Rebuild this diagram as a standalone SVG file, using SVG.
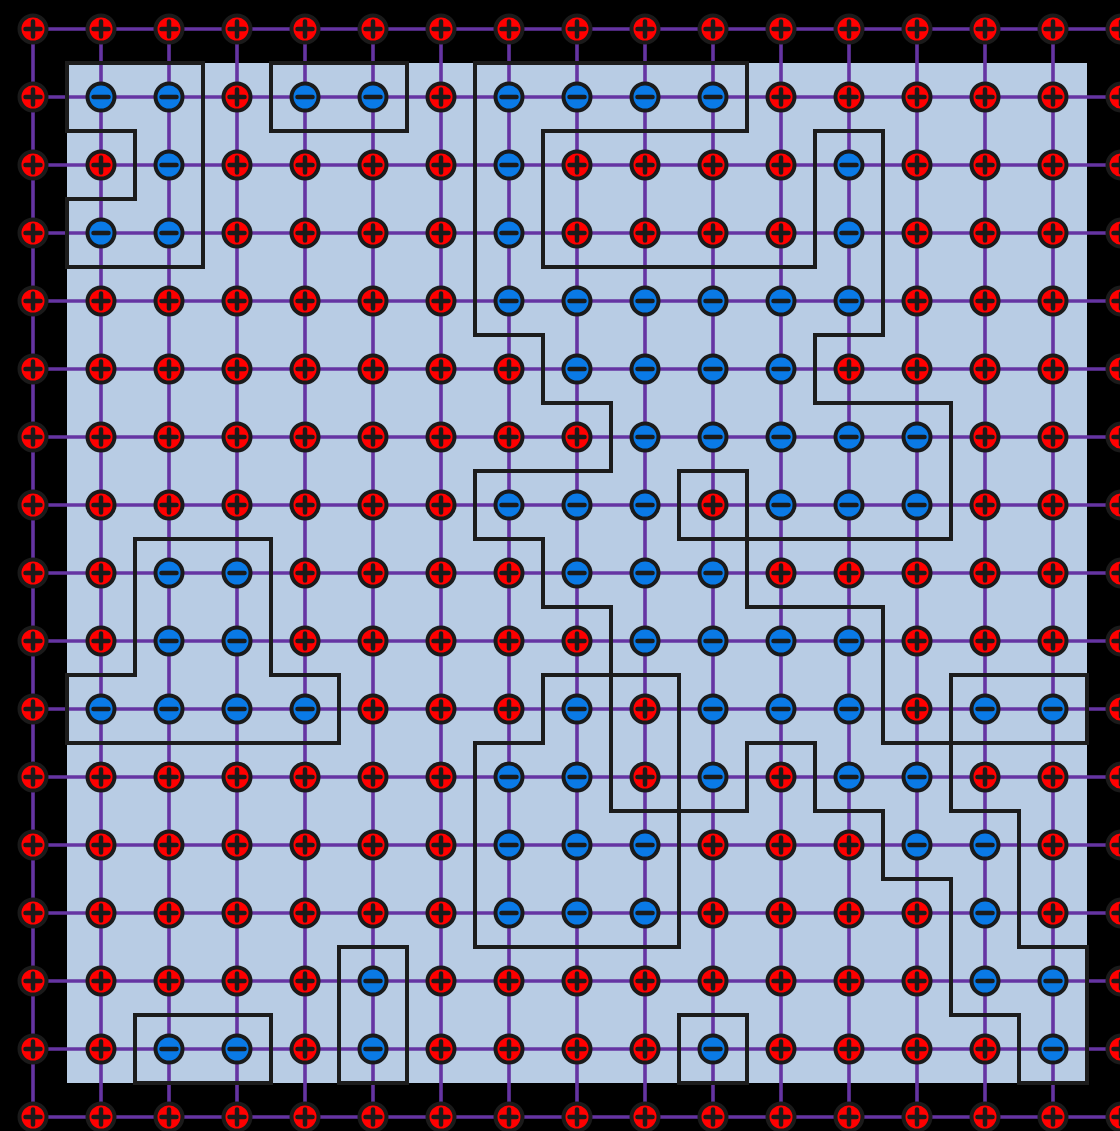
<svg xmlns="http://www.w3.org/2000/svg" xmlns:xlink="http://www.w3.org/1999/xlink" width="1120" height="1131" viewBox="0 0 1120 1131">
<style>
.bond{stroke:#6534a2;stroke-width:3.6;fill:none}
.wall{stroke:#1c1c1c;stroke-width:4;fill:none;stroke-linecap:square;stroke-linejoin:miter}
.ring{stroke:#1a1a1a;stroke-width:4}
.sign{stroke:#1a1a1a;stroke-linecap:round;fill:none}
</style>
<defs>
<g id="p"><circle r="13.5" fill="#ff0000" class="ring"/><path d="M-7.5 0H7.5M0 -7.5V7.5" class="sign" stroke-width="4.5"/></g>
<g id="m"><circle r="13.5" fill="#0a7ae6" class="ring"/><path d="M-7.5 0H7.5" class="sign" stroke-width="4.5"/></g>
</defs>
<rect x="0" y="0" width="1120" height="1131" fill="#000"/>
<rect x="67" y="63" width="1020" height="1020" fill="#b8cce4"/>
<g id="connectors" class="bond">
<path d="M33 29H1120M33 97H1120M33 165H1120M33 233H1120M33 301H1120M33 369H1120M33 437H1120M33 505H1120M33 573H1120M33 641H1120M33 709H1120M33 777H1120M33 845H1120M33 913H1120M33 981H1120M33 1049H1120M33 1117H1120"/>
<path d="M33 29V1117M101 29V1117M169 29V1117M237 29V1117M305 29V1117M373 29V1117M441 29V1117M509 29V1117M577 29V1117M645 29V1117M713 29V1117M781 29V1117M849 29V1117M917 29V1117M985 29V1117M1053 29V1117"/>
</g>
<g id="domain-walls" class="wall">
<path d="M67 63H203M271 63H407M475 63H747
M67 131H135M271 131H407M543 131H747M815 131H883
M67 199H135
M67 267H203M543 267H815
M475 335H543M815 335H883
M543 403H611M815 403H951
M475 471H611M679 471H747
M135 539H271M475 539H543M679 539H951
M543 607H611M747 607H883
M67 675H135M271 675H339M543 675H679M951 675H1087
M67 743H339M475 743H543M747 743H815M883 743H1087
M611 811H747M815 811H883M951 811H1019
M883 879H951
M339 947H407M475 947H679M1019 947H1087
M135 1015H271M679 1015H747M951 1015H1019
M135 1083H271M339 1083H407M679 1083H747M1019 1083H1087"/>
<path d="M67 63V131M67 199V267M67 675V743
M135 131V199M135 539V675M135 1015V1083
M203 63V267
M271 63V131M271 539V675M271 1015V1083
M339 675V743M339 947V1083
M407 63V131M407 947V1083
M475 63V335M475 471V539M475 743V947
M543 131V267M543 335V403M543 539V607M543 675V743
M611 403V471M611 607V811
M679 471V539M679 675V947M679 1015V1083
M747 63V131M747 471V607M747 743V811M747 1015V1083
M815 131V267M815 335V403M815 743V811
M883 131V335M883 607V743M883 811V879
M951 403V539M951 675V811M951 879V1015
M1019 811V947M1019 1015V1083
M1087 675V743M1087 947V1083"/>
</g>
<g id="nodes">
<g id="n0-0"><use href="#p" x="33" y="29"/></g><g id="n0-1"><use href="#p" x="101" y="29"/></g><g id="n0-2"><use href="#p" x="169" y="29"/></g><g id="n0-3"><use href="#p" x="237" y="29"/></g><g id="n0-4"><use href="#p" x="305" y="29"/></g><g id="n0-5"><use href="#p" x="373" y="29"/></g><g id="n0-6"><use href="#p" x="441" y="29"/></g><g id="n0-7"><use href="#p" x="509" y="29"/></g><g id="n0-8"><use href="#p" x="577" y="29"/></g><g id="n0-9"><use href="#p" x="645" y="29"/></g><g id="n0-10"><use href="#p" x="713" y="29"/></g><g id="n0-11"><use href="#p" x="781" y="29"/></g><g id="n0-12"><use href="#p" x="849" y="29"/></g><g id="n0-13"><use href="#p" x="917" y="29"/></g><g id="n0-14"><use href="#p" x="985" y="29"/></g><g id="n0-15"><use href="#p" x="1053" y="29"/></g><g id="n0-16"><use href="#p" x="1121" y="29"/></g>
<g id="n1-0"><use href="#p" x="33" y="97"/></g><g id="n1-1"><use href="#m" x="101" y="97"/></g><g id="n1-2"><use href="#m" x="169" y="97"/></g><g id="n1-3"><use href="#p" x="237" y="97"/></g><g id="n1-4"><use href="#m" x="305" y="97"/></g><g id="n1-5"><use href="#m" x="373" y="97"/></g><g id="n1-6"><use href="#p" x="441" y="97"/></g><g id="n1-7"><use href="#m" x="509" y="97"/></g><g id="n1-8"><use href="#m" x="577" y="97"/></g><g id="n1-9"><use href="#m" x="645" y="97"/></g><g id="n1-10"><use href="#m" x="713" y="97"/></g><g id="n1-11"><use href="#p" x="781" y="97"/></g><g id="n1-12"><use href="#p" x="849" y="97"/></g><g id="n1-13"><use href="#p" x="917" y="97"/></g><g id="n1-14"><use href="#p" x="985" y="97"/></g><g id="n1-15"><use href="#p" x="1053" y="97"/></g><g id="n1-16"><use href="#p" x="1121" y="97"/></g>
<g id="n2-0"><use href="#p" x="33" y="165"/></g><g id="n2-1"><use href="#p" x="101" y="165"/></g><g id="n2-2"><use href="#m" x="169" y="165"/></g><g id="n2-3"><use href="#p" x="237" y="165"/></g><g id="n2-4"><use href="#p" x="305" y="165"/></g><g id="n2-5"><use href="#p" x="373" y="165"/></g><g id="n2-6"><use href="#p" x="441" y="165"/></g><g id="n2-7"><use href="#m" x="509" y="165"/></g><g id="n2-8"><use href="#p" x="577" y="165"/></g><g id="n2-9"><use href="#p" x="645" y="165"/></g><g id="n2-10"><use href="#p" x="713" y="165"/></g><g id="n2-11"><use href="#p" x="781" y="165"/></g><g id="n2-12"><use href="#m" x="849" y="165"/></g><g id="n2-13"><use href="#p" x="917" y="165"/></g><g id="n2-14"><use href="#p" x="985" y="165"/></g><g id="n2-15"><use href="#p" x="1053" y="165"/></g><g id="n2-16"><use href="#p" x="1121" y="165"/></g>
<g id="n3-0"><use href="#p" x="33" y="233"/></g><g id="n3-1"><use href="#m" x="101" y="233"/></g><g id="n3-2"><use href="#m" x="169" y="233"/></g><g id="n3-3"><use href="#p" x="237" y="233"/></g><g id="n3-4"><use href="#p" x="305" y="233"/></g><g id="n3-5"><use href="#p" x="373" y="233"/></g><g id="n3-6"><use href="#p" x="441" y="233"/></g><g id="n3-7"><use href="#m" x="509" y="233"/></g><g id="n3-8"><use href="#p" x="577" y="233"/></g><g id="n3-9"><use href="#p" x="645" y="233"/></g><g id="n3-10"><use href="#p" x="713" y="233"/></g><g id="n3-11"><use href="#p" x="781" y="233"/></g><g id="n3-12"><use href="#m" x="849" y="233"/></g><g id="n3-13"><use href="#p" x="917" y="233"/></g><g id="n3-14"><use href="#p" x="985" y="233"/></g><g id="n3-15"><use href="#p" x="1053" y="233"/></g><g id="n3-16"><use href="#p" x="1121" y="233"/></g>
<g id="n4-0"><use href="#p" x="33" y="301"/></g><g id="n4-1"><use href="#p" x="101" y="301"/></g><g id="n4-2"><use href="#p" x="169" y="301"/></g><g id="n4-3"><use href="#p" x="237" y="301"/></g><g id="n4-4"><use href="#p" x="305" y="301"/></g><g id="n4-5"><use href="#p" x="373" y="301"/></g><g id="n4-6"><use href="#p" x="441" y="301"/></g><g id="n4-7"><use href="#m" x="509" y="301"/></g><g id="n4-8"><use href="#m" x="577" y="301"/></g><g id="n4-9"><use href="#m" x="645" y="301"/></g><g id="n4-10"><use href="#m" x="713" y="301"/></g><g id="n4-11"><use href="#m" x="781" y="301"/></g><g id="n4-12"><use href="#m" x="849" y="301"/></g><g id="n4-13"><use href="#p" x="917" y="301"/></g><g id="n4-14"><use href="#p" x="985" y="301"/></g><g id="n4-15"><use href="#p" x="1053" y="301"/></g><g id="n4-16"><use href="#p" x="1121" y="301"/></g>
<g id="n5-0"><use href="#p" x="33" y="369"/></g><g id="n5-1"><use href="#p" x="101" y="369"/></g><g id="n5-2"><use href="#p" x="169" y="369"/></g><g id="n5-3"><use href="#p" x="237" y="369"/></g><g id="n5-4"><use href="#p" x="305" y="369"/></g><g id="n5-5"><use href="#p" x="373" y="369"/></g><g id="n5-6"><use href="#p" x="441" y="369"/></g><g id="n5-7"><use href="#p" x="509" y="369"/></g><g id="n5-8"><use href="#m" x="577" y="369"/></g><g id="n5-9"><use href="#m" x="645" y="369"/></g><g id="n5-10"><use href="#m" x="713" y="369"/></g><g id="n5-11"><use href="#m" x="781" y="369"/></g><g id="n5-12"><use href="#p" x="849" y="369"/></g><g id="n5-13"><use href="#p" x="917" y="369"/></g><g id="n5-14"><use href="#p" x="985" y="369"/></g><g id="n5-15"><use href="#p" x="1053" y="369"/></g><g id="n5-16"><use href="#p" x="1121" y="369"/></g>
<g id="n6-0"><use href="#p" x="33" y="437"/></g><g id="n6-1"><use href="#p" x="101" y="437"/></g><g id="n6-2"><use href="#p" x="169" y="437"/></g><g id="n6-3"><use href="#p" x="237" y="437"/></g><g id="n6-4"><use href="#p" x="305" y="437"/></g><g id="n6-5"><use href="#p" x="373" y="437"/></g><g id="n6-6"><use href="#p" x="441" y="437"/></g><g id="n6-7"><use href="#p" x="509" y="437"/></g><g id="n6-8"><use href="#p" x="577" y="437"/></g><g id="n6-9"><use href="#m" x="645" y="437"/></g><g id="n6-10"><use href="#m" x="713" y="437"/></g><g id="n6-11"><use href="#m" x="781" y="437"/></g><g id="n6-12"><use href="#m" x="849" y="437"/></g><g id="n6-13"><use href="#m" x="917" y="437"/></g><g id="n6-14"><use href="#p" x="985" y="437"/></g><g id="n6-15"><use href="#p" x="1053" y="437"/></g><g id="n6-16"><use href="#p" x="1121" y="437"/></g>
<g id="n7-0"><use href="#p" x="33" y="505"/></g><g id="n7-1"><use href="#p" x="101" y="505"/></g><g id="n7-2"><use href="#p" x="169" y="505"/></g><g id="n7-3"><use href="#p" x="237" y="505"/></g><g id="n7-4"><use href="#p" x="305" y="505"/></g><g id="n7-5"><use href="#p" x="373" y="505"/></g><g id="n7-6"><use href="#p" x="441" y="505"/></g><g id="n7-7"><use href="#m" x="509" y="505"/></g><g id="n7-8"><use href="#m" x="577" y="505"/></g><g id="n7-9"><use href="#m" x="645" y="505"/></g><g id="n7-10"><use href="#p" x="713" y="505"/></g><g id="n7-11"><use href="#m" x="781" y="505"/></g><g id="n7-12"><use href="#m" x="849" y="505"/></g><g id="n7-13"><use href="#m" x="917" y="505"/></g><g id="n7-14"><use href="#p" x="985" y="505"/></g><g id="n7-15"><use href="#p" x="1053" y="505"/></g><g id="n7-16"><use href="#p" x="1121" y="505"/></g>
<g id="n8-0"><use href="#p" x="33" y="573"/></g><g id="n8-1"><use href="#p" x="101" y="573"/></g><g id="n8-2"><use href="#m" x="169" y="573"/></g><g id="n8-3"><use href="#m" x="237" y="573"/></g><g id="n8-4"><use href="#p" x="305" y="573"/></g><g id="n8-5"><use href="#p" x="373" y="573"/></g><g id="n8-6"><use href="#p" x="441" y="573"/></g><g id="n8-7"><use href="#p" x="509" y="573"/></g><g id="n8-8"><use href="#m" x="577" y="573"/></g><g id="n8-9"><use href="#m" x="645" y="573"/></g><g id="n8-10"><use href="#m" x="713" y="573"/></g><g id="n8-11"><use href="#p" x="781" y="573"/></g><g id="n8-12"><use href="#p" x="849" y="573"/></g><g id="n8-13"><use href="#p" x="917" y="573"/></g><g id="n8-14"><use href="#p" x="985" y="573"/></g><g id="n8-15"><use href="#p" x="1053" y="573"/></g><g id="n8-16"><use href="#p" x="1121" y="573"/></g>
<g id="n9-0"><use href="#p" x="33" y="641"/></g><g id="n9-1"><use href="#p" x="101" y="641"/></g><g id="n9-2"><use href="#m" x="169" y="641"/></g><g id="n9-3"><use href="#m" x="237" y="641"/></g><g id="n9-4"><use href="#p" x="305" y="641"/></g><g id="n9-5"><use href="#p" x="373" y="641"/></g><g id="n9-6"><use href="#p" x="441" y="641"/></g><g id="n9-7"><use href="#p" x="509" y="641"/></g><g id="n9-8"><use href="#p" x="577" y="641"/></g><g id="n9-9"><use href="#m" x="645" y="641"/></g><g id="n9-10"><use href="#m" x="713" y="641"/></g><g id="n9-11"><use href="#m" x="781" y="641"/></g><g id="n9-12"><use href="#m" x="849" y="641"/></g><g id="n9-13"><use href="#p" x="917" y="641"/></g><g id="n9-14"><use href="#p" x="985" y="641"/></g><g id="n9-15"><use href="#p" x="1053" y="641"/></g><g id="n9-16"><use href="#p" x="1121" y="641"/></g>
<g id="n10-0"><use href="#p" x="33" y="709"/></g><g id="n10-1"><use href="#m" x="101" y="709"/></g><g id="n10-2"><use href="#m" x="169" y="709"/></g><g id="n10-3"><use href="#m" x="237" y="709"/></g><g id="n10-4"><use href="#m" x="305" y="709"/></g><g id="n10-5"><use href="#p" x="373" y="709"/></g><g id="n10-6"><use href="#p" x="441" y="709"/></g><g id="n10-7"><use href="#p" x="509" y="709"/></g><g id="n10-8"><use href="#m" x="577" y="709"/></g><g id="n10-9"><use href="#p" x="645" y="709"/></g><g id="n10-10"><use href="#m" x="713" y="709"/></g><g id="n10-11"><use href="#m" x="781" y="709"/></g><g id="n10-12"><use href="#m" x="849" y="709"/></g><g id="n10-13"><use href="#p" x="917" y="709"/></g><g id="n10-14"><use href="#m" x="985" y="709"/></g><g id="n10-15"><use href="#m" x="1053" y="709"/></g><g id="n10-16"><use href="#p" x="1121" y="709"/></g>
<g id="n11-0"><use href="#p" x="33" y="777"/></g><g id="n11-1"><use href="#p" x="101" y="777"/></g><g id="n11-2"><use href="#p" x="169" y="777"/></g><g id="n11-3"><use href="#p" x="237" y="777"/></g><g id="n11-4"><use href="#p" x="305" y="777"/></g><g id="n11-5"><use href="#p" x="373" y="777"/></g><g id="n11-6"><use href="#p" x="441" y="777"/></g><g id="n11-7"><use href="#m" x="509" y="777"/></g><g id="n11-8"><use href="#m" x="577" y="777"/></g><g id="n11-9"><use href="#p" x="645" y="777"/></g><g id="n11-10"><use href="#m" x="713" y="777"/></g><g id="n11-11"><use href="#p" x="781" y="777"/></g><g id="n11-12"><use href="#m" x="849" y="777"/></g><g id="n11-13"><use href="#m" x="917" y="777"/></g><g id="n11-14"><use href="#p" x="985" y="777"/></g><g id="n11-15"><use href="#p" x="1053" y="777"/></g><g id="n11-16"><use href="#p" x="1121" y="777"/></g>
<g id="n12-0"><use href="#p" x="33" y="845"/></g><g id="n12-1"><use href="#p" x="101" y="845"/></g><g id="n12-2"><use href="#p" x="169" y="845"/></g><g id="n12-3"><use href="#p" x="237" y="845"/></g><g id="n12-4"><use href="#p" x="305" y="845"/></g><g id="n12-5"><use href="#p" x="373" y="845"/></g><g id="n12-6"><use href="#p" x="441" y="845"/></g><g id="n12-7"><use href="#m" x="509" y="845"/></g><g id="n12-8"><use href="#m" x="577" y="845"/></g><g id="n12-9"><use href="#m" x="645" y="845"/></g><g id="n12-10"><use href="#p" x="713" y="845"/></g><g id="n12-11"><use href="#p" x="781" y="845"/></g><g id="n12-12"><use href="#p" x="849" y="845"/></g><g id="n12-13"><use href="#m" x="917" y="845"/></g><g id="n12-14"><use href="#m" x="985" y="845"/></g><g id="n12-15"><use href="#p" x="1053" y="845"/></g><g id="n12-16"><use href="#p" x="1121" y="845"/></g>
<g id="n13-0"><use href="#p" x="33" y="913"/></g><g id="n13-1"><use href="#p" x="101" y="913"/></g><g id="n13-2"><use href="#p" x="169" y="913"/></g><g id="n13-3"><use href="#p" x="237" y="913"/></g><g id="n13-4"><use href="#p" x="305" y="913"/></g><g id="n13-5"><use href="#p" x="373" y="913"/></g><g id="n13-6"><use href="#p" x="441" y="913"/></g><g id="n13-7"><use href="#m" x="509" y="913"/></g><g id="n13-8"><use href="#m" x="577" y="913"/></g><g id="n13-9"><use href="#m" x="645" y="913"/></g><g id="n13-10"><use href="#p" x="713" y="913"/></g><g id="n13-11"><use href="#p" x="781" y="913"/></g><g id="n13-12"><use href="#p" x="849" y="913"/></g><g id="n13-13"><use href="#p" x="917" y="913"/></g><g id="n13-14"><use href="#m" x="985" y="913"/></g><g id="n13-15"><use href="#p" x="1053" y="913"/></g><g id="n13-16"><use href="#p" x="1121" y="913"/></g>
<g id="n14-0"><use href="#p" x="33" y="981"/></g><g id="n14-1"><use href="#p" x="101" y="981"/></g><g id="n14-2"><use href="#p" x="169" y="981"/></g><g id="n14-3"><use href="#p" x="237" y="981"/></g><g id="n14-4"><use href="#p" x="305" y="981"/></g><g id="n14-5"><use href="#m" x="373" y="981"/></g><g id="n14-6"><use href="#p" x="441" y="981"/></g><g id="n14-7"><use href="#p" x="509" y="981"/></g><g id="n14-8"><use href="#p" x="577" y="981"/></g><g id="n14-9"><use href="#p" x="645" y="981"/></g><g id="n14-10"><use href="#p" x="713" y="981"/></g><g id="n14-11"><use href="#p" x="781" y="981"/></g><g id="n14-12"><use href="#p" x="849" y="981"/></g><g id="n14-13"><use href="#p" x="917" y="981"/></g><g id="n14-14"><use href="#m" x="985" y="981"/></g><g id="n14-15"><use href="#m" x="1053" y="981"/></g><g id="n14-16"><use href="#p" x="1121" y="981"/></g>
<g id="n15-0"><use href="#p" x="33" y="1049"/></g><g id="n15-1"><use href="#p" x="101" y="1049"/></g><g id="n15-2"><use href="#m" x="169" y="1049"/></g><g id="n15-3"><use href="#m" x="237" y="1049"/></g><g id="n15-4"><use href="#p" x="305" y="1049"/></g><g id="n15-5"><use href="#m" x="373" y="1049"/></g><g id="n15-6"><use href="#p" x="441" y="1049"/></g><g id="n15-7"><use href="#p" x="509" y="1049"/></g><g id="n15-8"><use href="#p" x="577" y="1049"/></g><g id="n15-9"><use href="#p" x="645" y="1049"/></g><g id="n15-10"><use href="#m" x="713" y="1049"/></g><g id="n15-11"><use href="#p" x="781" y="1049"/></g><g id="n15-12"><use href="#p" x="849" y="1049"/></g><g id="n15-13"><use href="#p" x="917" y="1049"/></g><g id="n15-14"><use href="#p" x="985" y="1049"/></g><g id="n15-15"><use href="#m" x="1053" y="1049"/></g><g id="n15-16"><use href="#p" x="1121" y="1049"/></g>
<g id="n16-0"><use href="#p" x="33" y="1117"/></g><g id="n16-1"><use href="#p" x="101" y="1117"/></g><g id="n16-2"><use href="#p" x="169" y="1117"/></g><g id="n16-3"><use href="#p" x="237" y="1117"/></g><g id="n16-4"><use href="#p" x="305" y="1117"/></g><g id="n16-5"><use href="#p" x="373" y="1117"/></g><g id="n16-6"><use href="#p" x="441" y="1117"/></g><g id="n16-7"><use href="#p" x="509" y="1117"/></g><g id="n16-8"><use href="#p" x="577" y="1117"/></g><g id="n16-9"><use href="#p" x="645" y="1117"/></g><g id="n16-10"><use href="#p" x="713" y="1117"/></g><g id="n16-11"><use href="#p" x="781" y="1117"/></g><g id="n16-12"><use href="#p" x="849" y="1117"/></g><g id="n16-13"><use href="#p" x="917" y="1117"/></g><g id="n16-14"><use href="#p" x="985" y="1117"/></g><g id="n16-15"><use href="#p" x="1053" y="1117"/></g><g id="n16-16"><use href="#p" x="1121" y="1117"/></g>
</g>
</svg>
